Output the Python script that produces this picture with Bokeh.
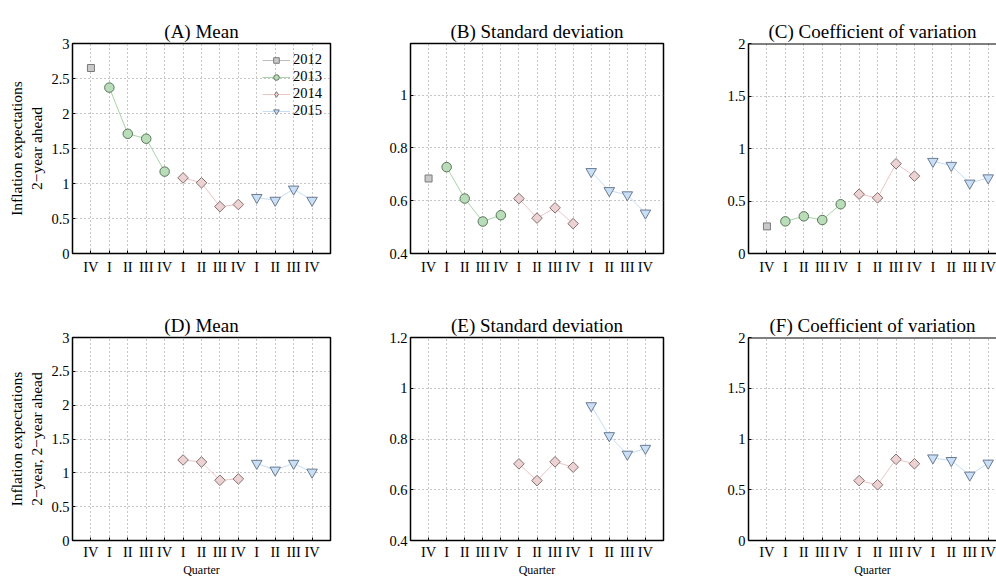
import math
from bokeh.plotting import figure
from bokeh.layouts import row, column
from bokeh.models import FixedTicker, Legend, LegendItem, Range1d, Span
from bokeh.embed import file_html
from bokeh.resources import INLINE

# ---------------- data ----------------
quarter_labels = ["IV", "I", "II", "III", "IV", "I", "II", "III", "IV", "I", "II", "III", "IV"]
years = ["2012", "2013", "2014", "2015"]
quarter_index = {"2012": [1], "2013": [2, 3, 4, 5], "2014": [6, 7, 8, 9], "2015": [10, 11, 12, 13]}

# (A) Mean, 2-year ahead
mean_a = {"2012": [2.65], "2013": [2.37, 1.71, 1.64, 1.17],
          "2014": [1.08, 1.01, 0.67, 0.70], "2015": [0.80, 0.76, 0.92, 0.76]}
# (B) Standard deviation
sd_b = {"2012": [0.684], "2013": [0.727, 0.608, 0.521, 0.545],
        "2014": [0.608, 0.534, 0.573, 0.513], "2015": [0.710, 0.638, 0.622, 0.553]}
# (C) Coefficient of variation
cv_c = {"2012": [0.258], "2013": [0.306, 0.354, 0.319, 0.469],
        "2014": [0.565, 0.530, 0.855, 0.737], "2015": [0.877, 0.839, 0.670, 0.720]}
# (D) Mean, 2-year, 2-year ahead
mean_d = {"2012": [], "2013": [],
          "2014": [1.19, 1.16, 0.89, 0.91], "2015": [1.14, 1.04, 1.14, 1.01]}
# (E) Standard deviation
sd_e = {"2012": [], "2013": [],
        "2014": [0.702, 0.636, 0.710, 0.689], "2015": [0.931, 0.813, 0.740, 0.763]}
# (F) Coefficient of variation
cv_f = {"2012": [], "2013": [],
        "2014": [0.590, 0.549, 0.800, 0.756], "2015": [0.813, 0.788, 0.644, 0.762]}

# ---------------- styles ----------------
FONT = "Liberation Serif"
STYLE = {
    "2012": dict(marker="square", size=7, angle=0, fill="#c9c9c9", edge="#7a7a7a", line="#bdbdbd",
                 lmarker="square", lsize=7),
    "2013": dict(marker="circle", size=9.5, angle=0, fill="#b9dcb9", edge="#5a765a", line="#a9d4a9",
                 lmarker="circle", lsize=9.5),
    "2014": dict(marker="square", size=7.5, angle=math.pi / 4, fill="#ecd2d2", edge="#857070", line="#ecc6c6",
                 lmarker="diamond", lsize=12),
    "2015": dict(marker="inverted_triangle", size=10.5, angle=0, fill="#c8dff5", edge="#6a7a92", line="#c6ddf4",
                 lmarker="inverted_triangle", lsize=10.5),
}

COL_W = [370, 335, 291]
COL_BL = [72, 40, 43]
COL_BR = [40, 42, 0]
ROW_H = [290, 289]
ROW_BT = [43, 47]
ROW_BB = [37, 33]


def panel(title, data, yr, yticks, col, rw, ylabel=None, xlabel=None, legend=False, xend=14):
    p = figure(width=COL_W[col], height=ROW_H[rw], output_backend="svg",
               toolbar_location=None, x_range=Range1d(0, xend), y_range=Range1d(*yr),
               min_border=0, min_border_left=COL_BL[col], min_border_right=COL_BR[col],
               min_border_top=ROW_BT[rw], min_border_bottom=ROW_BB[rw])
    p.title.text = title
    p.title.text_font = FONT
    p.title.text_font_size = "19px"
    p.title.text_font_style = "normal"
    p.title.text_color = "black"
    p.title.align = "center"
    p.title.standoff = 3

    cut_right = col == 2
    if cut_right:
        p.outline_line_alpha = 0
        p.xaxis.axis_line_color = "black"
        p.yaxis.axis_line_color = "black"
        p.xaxis.axis_line_width = 1.5
        p.yaxis.axis_line_width = 1.5
        p.add_layout(Span(location=yr[1], dimension="width", line_color="black", line_width=2))
    else:
        p.outline_line_color = "black"
        p.outline_line_width = 1.5
        p.outline_line_alpha = 1
        p.xaxis.axis_line_color = None
        p.yaxis.axis_line_color = None

    p.xaxis.ticker = FixedTicker(ticks=list(range(1, 14)), minor_ticks=[])
    p.xaxis.major_label_overrides = {i + 1: q for i, q in enumerate(quarter_labels)}
    p.yaxis.ticker = FixedTicker(ticks=yticks, minor_ticks=[])
    p.yaxis.major_label_overrides = {t: ("%g" % t) for t in yticks}
    for ax in (p.xaxis, p.yaxis):
        ax.major_label_text_font = FONT
        ax.major_label_text_font_size = "14.5px"
        ax.major_label_text_color = "black"
        ax.major_tick_in = 3
        ax.major_tick_out = 0
        ax.major_tick_line_color = "black"
        ax.minor_tick_line_color = None
    p.xaxis.major_label_standoff = 5 if rw == 0 else 3
    p.yaxis.major_label_standoff = 3

    p.xgrid.ticker = FixedTicker(ticks=list(range(1, 14)))
    p.ygrid.ticker = FixedTicker(ticks=yticks)
    for g in (p.xgrid, p.ygrid):
        g.grid_line_color = "#8c8c8c"
        g.grid_line_dash = "1 3"
        g.grid_line_width = 1

    if ylabel:
        p.yaxis.axis_label = ylabel
        p.yaxis.axis_label_text_font = FONT
        p.yaxis.axis_label_text_font_size = "15.5px"
        p.yaxis.axis_label_text_font_style = "normal"
        p.yaxis.axis_label_text_color = "black"
        p.yaxis.axis_label_standoff = 3
    if xlabel:
        p.xaxis.axis_label = xlabel
        p.xaxis.axis_label_text_font = FONT
        p.xaxis.axis_label_text_font_size = "12px"
        p.xaxis.axis_label_text_font_style = "normal"
        p.xaxis.axis_label_text_color = "black"
        p.xaxis.axis_label_standoff = 0

    items = []
    for yname in years:
        vals = data[yname]
        if not vals:
            continue
        xs = quarter_index[yname][:len(vals)]
        st = STYLE[yname]
        lr = p.line(xs, vals, line_color=st["line"], line_width=1)
        p.scatter(xs, vals, marker=st["marker"], size=st["size"], angle=st["angle"],
                  fill_color=st["fill"], line_color=st["edge"], line_width=1)
        if legend:
            # marker used only for the legend key (a single NaN point, never drawn in the plot)
            kr = p.scatter([float("nan")], [float("nan")], marker=st["lmarker"], size=st["lsize"],
                           fill_color=st["fill"], line_color=st["edge"], line_width=1)
            items.append(LegendItem(label=yname, renderers=[lr, kr]))
    if legend:
        lg = Legend(items=items, location="top_right")
        lg.label_text_font = FONT
        lg.label_text_font_size = "14.5px"
        lg.label_text_color = "black"
        lg.glyph_width = 28
        lg.glyph_height = 14
        lg.label_height = 14
        lg.spacing = 0
        lg.padding = 0
        lg.margin = 8
        lg.label_standoff = 3
        lg.border_line_alpha = 0
        lg.background_fill_alpha = 0
        p.add_layout(lg)
    return p


pa = panel("(A) Mean", mean_a, (0, 3), [0, 0.5, 1, 1.5, 2, 2.5, 3], 0, 0,
           ylabel="Inflation expectations\n2\u2212year ahead", legend=True)
pb = panel("(B) Standard deviation", sd_b, (0.4, 1.195), [0.4, 0.6, 0.8, 1], 1, 0)
pc = panel("(C) Coefficient of variation", cv_c, (0, 2), [0, 0.5, 1, 1.5, 2], 2, 0, xend=13.45)
pd_ = panel("(D) Mean", mean_d, (0, 3), [0, 0.5, 1, 1.5, 2, 2.5, 3], 0, 1,
            ylabel="Inflation expectations\n2\u2212year, 2\u2212year ahead", xlabel="Quarter")
pe = panel("(E) Standard deviation", sd_e, (0.4, 1.2), [0.4, 0.6, 0.8, 1, 1.2], 1, 1, xlabel="Quarter")
pf = panel("(F) Coefficient of variation", cv_f, (0, 2), [0, 0.5, 1, 1.5, 2], 2, 1,
           xlabel="Quarter", xend=13.45)

layout = column(row(pa, pb, pc), row(pd_, pe, pf))

with open("out.html", "w") as f:
    f.write(file_html(layout, INLINE))
